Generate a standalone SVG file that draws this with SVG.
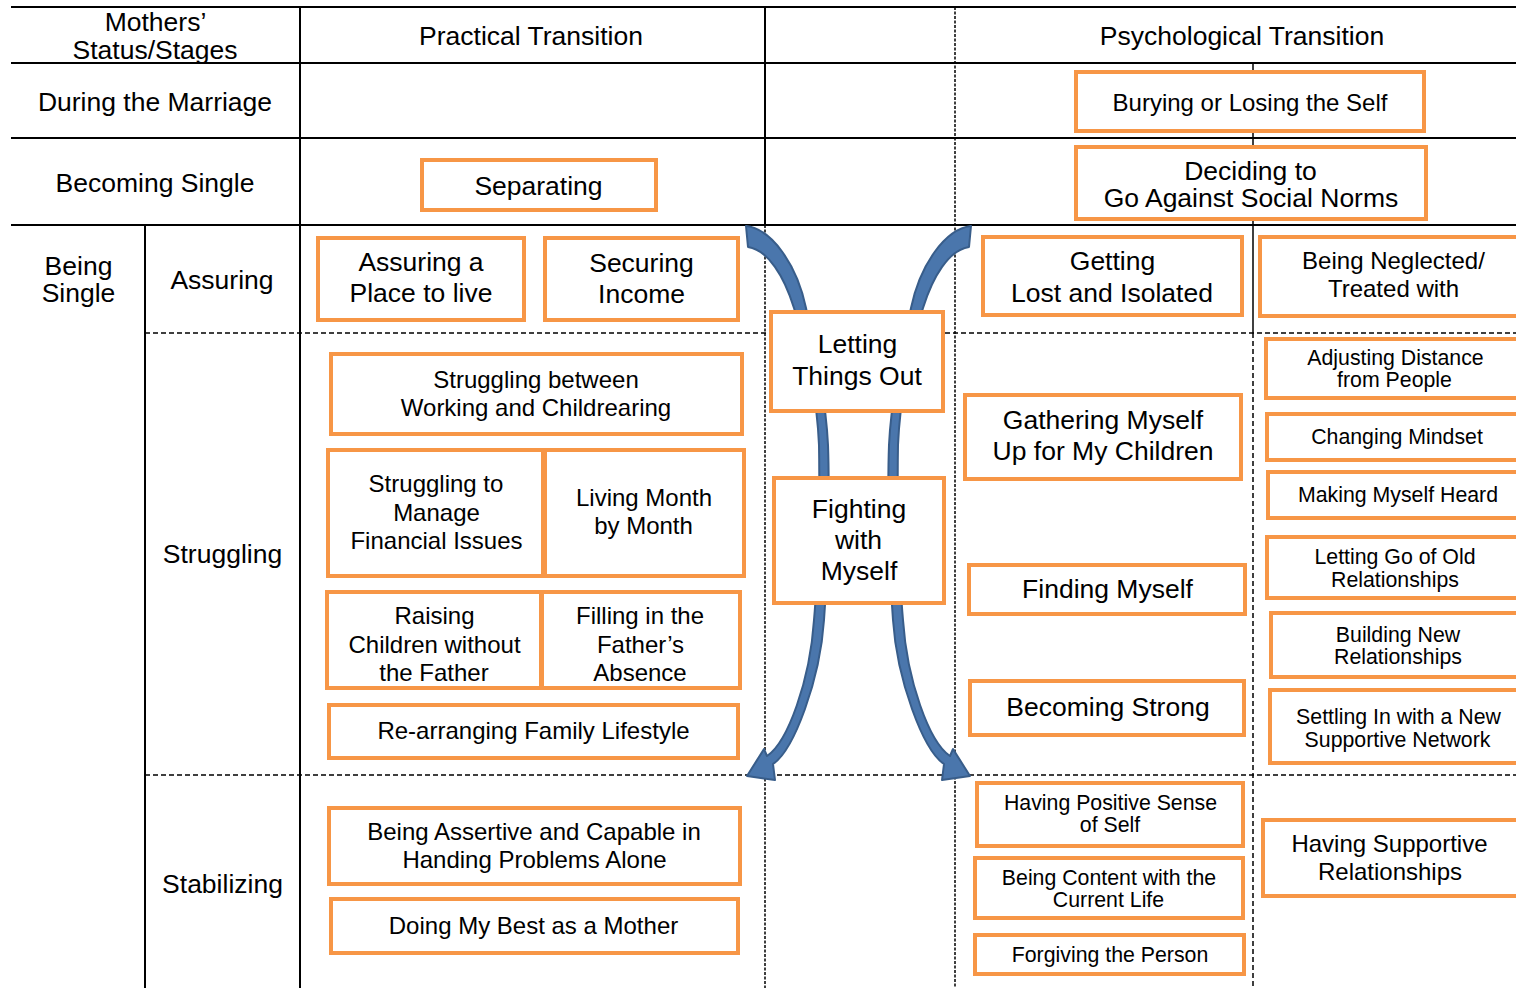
<svg xmlns="http://www.w3.org/2000/svg" width="1516" height="988" viewBox="0 0 1516 988">
<style>
.t{font-family:"Liberation Sans",Arial,sans-serif;fill:#000;text-anchor:middle;dominant-baseline:central}
.f26{font-size:26.5px}
.f24{font-size:24px}
.f21{font-size:21.3px}
.box{fill:#fff;stroke:#F79646;stroke-width:4}
.solid{stroke:#000;stroke-width:2;fill:none}
.thin{stroke:#000;stroke-width:1.5;fill:none}
.dash{stroke:#000;stroke-width:1.5;stroke-dasharray:5 3;fill:none}
.dot{stroke:#000;stroke-width:1.5;stroke-dasharray:3 1.5;fill:none}
.arrow{fill:#4A76AC;stroke:#385D8A;stroke-width:2;stroke-linejoin:round}
</style>
<rect x="0" y="0" width="1516" height="988" fill="#fff"/>
<g id="grid">
<line class="solid" x1="11" y1="7" x2="1516" y2="7"/>
<line class="solid" x1="11" y1="63" x2="1516" y2="63"/>
<line class="solid" x1="11" y1="138" x2="1516" y2="138"/>
<line class="solid" x1="11" y1="225" x2="1516" y2="225"/>
<line class="solid" x1="300" y1="7" x2="300" y2="988"/>
<line class="solid" x1="145" y1="225" x2="145" y2="988"/>
<line class="solid" x1="765" y1="7" x2="765" y2="225"/>
<line class="dot" x1="765" y1="225" x2="765" y2="988"/>
<line class="dot" x1="955" y1="7" x2="955" y2="988"/>
<line class="thin" x1="1253" y1="63" x2="1253" y2="333"/>
<line class="dash" x1="1253" y1="333" x2="1253" y2="988"/>
<line class="dash" x1="145" y1="333" x2="1516" y2="333"/>
<line class="dash" x1="145" y1="775" x2="1516" y2="775"/>
</g>
<g id="labels">
<text class="t f26" x="155.5" y="22">Mothers’</text>
<text class="t f26" x="155" y="50">Status/Stages</text>
<text class="t f26" x="531" y="36">Practical Transition</text>
<text class="t f26" x="1242" y="36">Psychological Transition</text>
<text class="t f26" x="155" y="102">During the Marriage</text>
<text class="t f26" x="155" y="183">Becoming Single</text>
<text class="t f26" x="78.5" y="266">Being</text>
<text class="t f26" x="78.5" y="293">Single</text>
<text class="t f26" x="222" y="280">Assuring</text>
<text class="t f26" x="222.5" y="554">Struggling</text>
<text class="t f26" x="222.5" y="884">Stabilizing</text>
</g>
<g id="connectors">
<path id="arrow-left" class="arrow" d="M746,226 C772,229 797,265 806,308 C815,350 826,400 828,445 C830,500 827,580 824,620 C820,680 794,750 773,764 L775,780 L747,776 L764,749 L767,756 C788,742 810,680 814,620 C818,575 820,500 819,445 C817,400 807,350 794,308 C784,276 768,250 748,247 Z"/>
<path id="arrow-right" class="arrow" transform="translate(1717,0) scale(-1,1)" d="M746,226 C772,229 797,265 806,308 C815,350 826,400 828,445 C830,500 827,580 824,620 C820,680 794,750 773,764 L775,780 L747,776 L764,749 L767,756 C788,742 810,680 814,620 C818,575 820,500 819,445 C817,400 807,350 794,308 C784,276 768,250 748,247 Z"/>
</g>
<g id="n-separating"><rect class="box" x="422" y="160" width="234" height="50"/><text class="t f26" x="538.5" y="186">Separating</text></g>
<g id="n-burying"><rect class="box" x="1076" y="72" width="348" height="59"/><text class="t f24" x="1250" y="102">Burying or Losing the Self</text></g>
<g id="n-deciding"><rect class="box" x="1076" y="147" width="350" height="72"/><text class="t f26" x="1250.5" y="171">Deciding to</text><text class="t f26" x="1251" y="198">Go Against Social Norms</text></g>
<g id="n-assuring-place"><rect class="box" x="318" y="238" width="206" height="82"/><text class="t f26" x="421" y="262">Assuring a</text><text class="t f26" x="421" y="293">Place to live</text></g>
<g id="n-securing-income"><rect class="box" x="545" y="238" width="193" height="82"/><text class="t f26" x="641.5" y="263">Securing</text><text class="t f26" x="641.5" y="294">Income</text></g>
<g id="n-getting-lost"><rect class="box" x="983" y="237" width="259" height="78"/><text class="t f26" x="1112.5" y="261">Getting</text><text class="t f26" x="1112" y="293">Lost and Isolated</text></g>
<g id="n-being-neglected"><rect class="box" x="1260" y="237" width="262" height="79"/><text class="t f24" x="1393.5" y="260">Being Neglected/</text><text class="t f24" x="1393.5" y="288">Treated with</text></g>
<g id="n-letting-out"><rect class="box" x="771" y="312" width="172" height="99"/><text class="t f26" x="857.5" y="344">Letting</text><text class="t f26" x="857" y="376">Things Out</text></g>
<g id="n-struggling-between"><rect class="box" x="331" y="354" width="411" height="80"/><text class="t f24" x="536" y="379">Struggling between</text><text class="t f24" x="536" y="407">Working and Childrearing</text></g>
<g id="n-struggling-financial"><rect class="box" x="328" y="450" width="215" height="126"/><text class="t f24" x="436" y="483">Struggling to</text><text class="t f24" x="436.5" y="512">Manage</text><text class="t f24" x="436.5" y="540">Financial Issues</text></g>
<g id="n-living-month"><rect class="box" x="545" y="450" width="199" height="126"/><text class="t f24" x="644" y="497">Living Month</text><text class="t f24" x="643.5" y="525">by Month</text></g>
<g id="n-raising"><rect class="box" x="327" y="592" width="214" height="96"/><text class="t f24" x="434.5" y="615">Raising</text><text class="t f24" x="434.5" y="644">Children without</text><text class="t f24" x="434" y="672">the Father</text></g>
<g id="n-filling"><rect class="box" x="542" y="592" width="198" height="96"/><text class="t f24" x="640" y="615">Filling in the</text><text class="t f24" x="640.5" y="644">Father’s</text><text class="t f24" x="640" y="672">Absence</text></g>
<g id="n-rearranging"><rect class="box" x="329" y="705" width="409" height="53"/><text class="t f24" x="533.5" y="730">Re-arranging Family Lifestyle</text></g>
<g id="n-fighting"><rect class="box" x="774" y="478" width="170" height="125"/><text class="t f26" x="859" y="509">Fighting</text><text class="t f26" x="858.5" y="540">with</text><text class="t f26" x="859" y="571">Myself</text></g>
<g id="n-gathering"><rect class="box" x="965" y="395" width="276" height="84"/><text class="t f26" x="1103" y="420">Gathering Myself</text><text class="t f26" x="1103" y="451">Up for My Children</text></g>
<g id="n-finding"><rect class="box" x="969" y="565" width="276" height="49"/><text class="t f26" x="1107.5" y="589">Finding Myself</text></g>
<g id="n-becoming-strong"><rect class="box" x="970" y="681" width="274" height="54"/><text class="t f26" x="1108" y="707">Becoming Strong</text></g>
<g id="n-adjusting"><rect class="box" x="1266" y="339" width="256" height="59"/><text class="t f21" x="1395.5" y="358">Adjusting Distance</text><text class="t f21" x="1394.5" y="380">from People</text></g>
<g id="n-changing"><rect class="box" x="1267" y="414" width="255" height="46"/><text class="t f21" x="1397" y="437">Changing Mindset</text></g>
<g id="n-making"><rect class="box" x="1268" y="472" width="254" height="46"/><text class="t f21" x="1398" y="495">Making Myself Heard</text></g>
<g id="n-letting-go"><rect class="box" x="1267" y="537" width="255" height="61"/><text class="t f21" x="1395" y="557">Letting Go of Old</text><text class="t f21" x="1395" y="580">Relationships</text></g>
<g id="n-building"><rect class="box" x="1271" y="613" width="251" height="64"/><text class="t f21" x="1398" y="635">Building New</text><text class="t f21" x="1398" y="657">Relationships</text></g>
<g id="n-settling"><rect class="box" x="1270" y="690" width="252" height="73"/><text class="t f21" x="1398.5" y="717">Settling In with a New</text><text class="t f21" x="1397.5" y="740">Supportive Network</text></g>
<g id="n-assertive"><rect class="box" x="329" y="808" width="411" height="76"/><text class="t f24" x="534" y="831">Being Assertive and Capable in</text><text class="t f24" x="534.5" y="859">Handing Problems Alone</text></g>
<g id="n-doing-best"><rect class="box" x="331" y="899" width="407" height="54"/><text class="t f24" x="533.5" y="925">Doing My Best as a Mother</text></g>
<g id="n-positive-self"><rect class="box" x="977" y="783" width="266" height="63"/><text class="t f21" x="1110.5" y="803">Having Positive Sense</text><text class="t f21" x="1110" y="825">of Self</text></g>
<g id="n-content"><rect class="box" x="975" y="858" width="268" height="60"/><text class="t f21" x="1109" y="878">Being Content with the</text><text class="t f21" x="1108.5" y="900">Current Life</text></g>
<g id="n-forgiving"><rect class="box" x="975" y="935" width="269" height="39"/><text class="t f21" x="1110" y="955">Forgiving the Person</text></g>
<g id="n-supportive-rel"><rect class="box" x="1263" y="820" width="259" height="76"/><text class="t f24" x="1389.5" y="843">Having Supportive</text><text class="t f24" x="1390" y="871">Relationships</text></g>
</svg>
